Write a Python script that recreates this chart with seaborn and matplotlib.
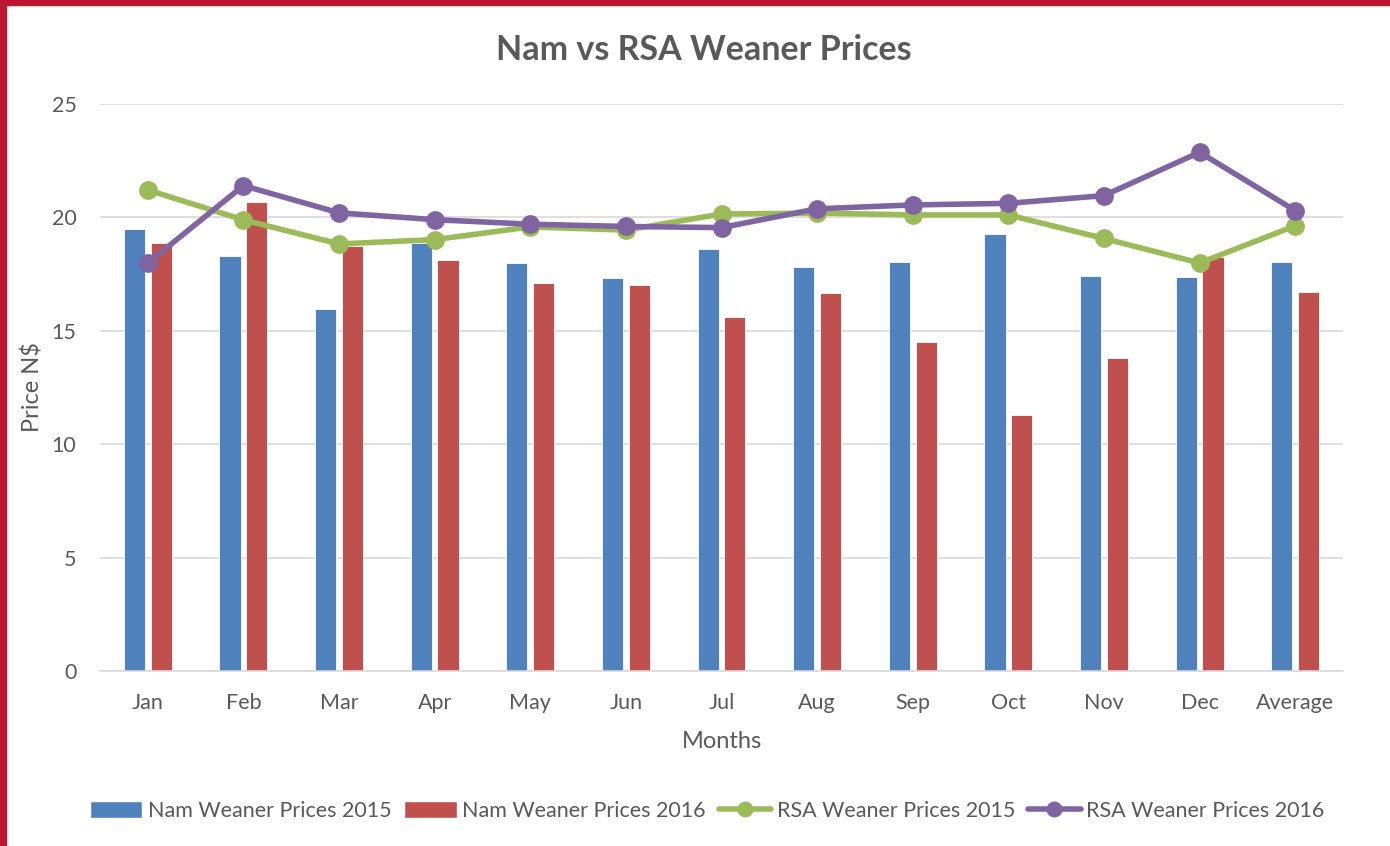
import matplotlib
matplotlib.use("Agg")
import matplotlib.pyplot as plt
from matplotlib.patches import Rectangle
from matplotlib.lines import Line2D
from matplotlib.patches import Patch
import seaborn as sns
import pandas as pd

months = ["Jan", "Feb", "Mar", "Apr", "May", "Jun", "Jul", "Aug", "Sep", "Oct", "Nov", "Dec", "Average"]
nam_2015 = [19.5, 18.3, 15.95, 18.87, 17.97, 17.33, 18.62, 17.8, 18.05, 19.28, 17.43, 17.37, 18.04]
nam_2016 = [18.87, 20.68, 18.74, 18.1, 17.1, 17.03, 15.63, 16.68, 14.5, 11.29, 13.82, 18.25, 16.72]
rsa_2015 = [21.21, 19.89, 18.83, 19.02, 19.58, 19.44, 20.15, 20.19, 20.11, 20.11, 19.07, 17.99, 19.63]
rsa_2016 = [17.99, 21.4, 20.2, 19.9, 19.7, 19.6, 19.55, 20.38, 20.55, 20.62, 20.96, 22.87, 20.3]

bar_labels = ["Nam Weaner Prices 2015", "Nam Weaner Prices 2016"]
line_labels = ["RSA Weaner Prices 2015", "RSA Weaner Prices 2016"]
bar_colors = ["#4F81BD", "#C0504D"]
line_colors = ["#9BBB59", "#8064A2"]

bars = pd.DataFrame({
    "Month": months * 2,
    "Price": nam_2015 + nam_2016,
    "Series": [bar_labels[0]] * len(months) + [bar_labels[1]] * len(months),
})
lines = pd.DataFrame({
    "Month": months * 2,
    "Price": rsa_2015 + rsa_2016,
    "Series": [line_labels[0]] * len(months) + [line_labels[1]] * len(months),
})

sns.set_theme(style="white")
plt.rcParams["font.family"] = ["Lato", "DejaVu Sans"]
text_color = "#595959"

fig = plt.figure(figsize=(13.9, 8.46), dpi=100)
ax = fig.add_axes([100 / 1390, 1 - 671 / 846, 1243 / 1390, 567 / 846])

sns.barplot(data=bars, x="Month", y="Price", hue="Series", order=months,
            hue_order=bar_labels, palette=bar_colors, width=0.56, gap=0.21,
            saturation=1, edgecolor="white", linewidth=0.6, ax=ax, legend=False)
sns.pointplot(data=lines, x="Month", y="Price", hue="Series", order=months,
              hue_order=line_labels, palette=line_colors, markers="o",
              markersize=10.5, linewidth=4, errorbar=None, dodge=False,
              ax=ax, legend=False)

ax.set_xlim(-0.5, 12.5)
ax.set_ylim(0, 25)
ax.set_yticks([0, 5, 10, 15, 20, 25])
ax.yaxis.grid(True, color="#D9D9D9", linewidth=1.2)
ax.set_axisbelow(True)
for s in ["top", "right", "left"]:
    ax.spines[s].set_visible(False)
ax.spines["bottom"].set_color("#D9D9D9")
ax.spines["bottom"].set_linewidth(1.2)
ax.tick_params(axis="both", length=0, labelsize=15.5, labelcolor=text_color)
ax.tick_params(axis="x", pad=16)
ax.tick_params(axis="y", pad=17)
ax.set_xlabel("Months", fontsize=17, color=text_color)
ax.set_ylabel("Price N$", fontsize=17, color=text_color)
ax.xaxis.set_label_coords(0.5, -70 / 567)
ax.yaxis.set_label_coords(-68 / 1243, 0.5)
ax.xaxis.label.set_va("center")
ax.yaxis.label.set_va("center")

fig.text(0.506, 1 - 50 / 846, "Nam vs RSA Weaner Prices", ha="center", va="center",
         fontsize=24.5, fontweight="bold", color=text_color)

handles = [
    Patch(facecolor=bar_colors[0], label=bar_labels[0]),
    Patch(facecolor=bar_colors[1], label=bar_labels[1]),
    Line2D([], [], color=line_colors[0], lw=4, marker="o", markersize=10.5, label=line_labels[0]),
    Line2D([], [], color=line_colors[1], lw=4, marker="o", markersize=10.5, label=line_labels[1]),
]
leg = fig.legend(handles=handles, loc="center", bbox_to_anchor=(707 / 1390, 1 - 811 / 846),
                 ncol=4, frameon=False, fontsize=15.5, handlelength=2.45,
                 handletextpad=0.25, columnspacing=0.6, handleheight=0.85)
for t in leg.get_texts():
    t.set_color(text_color)

border = "#BE1530"
fig.patches.append(Rectangle((0, 0), 6 / 1390, 1, transform=fig.transFigure, color=border, zorder=10))
fig.patches.append(Rectangle((0, 1 - 5 / 846), 1, 5 / 846, transform=fig.transFigure, color=border, zorder=10))

fig.savefig("out.png", dpi=100, facecolor="white")
